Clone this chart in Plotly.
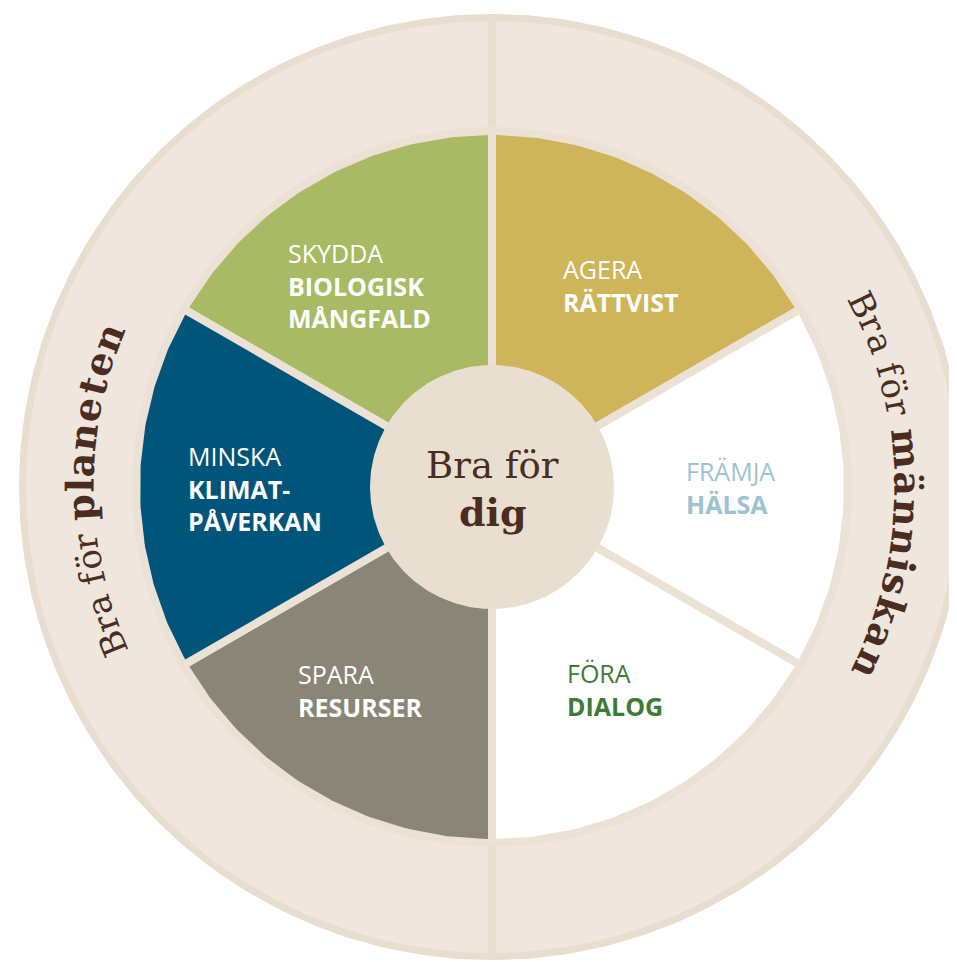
import numpy as np
import plotly.graph_objects as go

# ---------------- data ----------------
sector_verbs = ["SKYDDA", "AGERA", "FRÄMJA", "FÖRA", "SPARA", "MINSKA"]
sector_nouns = [["BIOLOGISK", "MÅNGFALD"], ["RÄTTVIST"], ["HÄLSA"], ["DIALOG"],
                ["RESURSER"], ["KLIMAT-", "PÅVERKAN"]]
sector_mid_deg = [120, 60, 0, -60, -120, 180]
sector_width_deg = [60, 60, 60, 60, 60, 60]
sector_fill = ["#A8BA64", "#CFB559", "#FFFFFF", "#FFFFFF", "#898678", "#02557A"]
sector_text = ["#FFFFFF", "#FFFFFF", "#9DC3D1", "#3F7B36", "#FFFFFF", "#FFFFFF"]

center_lines = ["Bra för", "dig"]
ring_left = [("Bra för ", False), ("planeten", True)]
ring_right = [("Bra för ", False), ("människan", True)]

# ---------------- style / layout ----------------
PAGE_OFF = 8               # default body margin of the html page
W, H = 957 - PAGE_OFF, 962 - PAGE_OFF
CX, CY = 492, 487          # page-pixel position of the circle centre
R_OUT = 473
BORDER = 7
DIVIDER = 8
R_SECTOR = 356
R_CENTER = 122
RING_FILL = "#EFE7DD"
RING_BORDER = "#E8DDCE"
GAP = "#EBE1D4"
CENTER_FILL = "#E9DFD1"
BROWN = "#4A2C20"
SANS = "Open Sans"
SLAB = "DejaVu Serif"


def P(x, y):
    return x - CX, CY - y


def arc(r, a0, a1, n=160):
    t = np.radians(np.linspace(a0, a1, n))
    return r * np.cos(t), r * np.sin(t)


fig = go.Figure()


def poly(xs, ys, fill, line_color=None, line_width=0):
    fig.add_trace(go.Scatter(
        x=list(xs), y=list(ys), mode="lines", fill="toself", fillcolor=fill,
        line=dict(color=line_color or fill, width=line_width),
        hoverinfo="skip", showlegend=False))


# outer disc (border colour)
x, y = arc(R_OUT, 0, 360, 400)
poly(x, y, RING_BORDER)
# two half rings
ri = R_OUT - BORDER
d = np.degrees(np.arcsin((DIVIDER / 2) / ri))
x, y = arc(ri, -90 + d, 90 - d, 300)
poly(x, y, RING_FILL)
x, y = arc(ri, 90 + d, 270 - d, 300)
poly(x, y, RING_FILL)

# sectors
for mid, wdt, col in zip(sector_mid_deg, sector_width_deg, sector_fill):
    ax, ay = arc(R_SECTOR, mid - wdt / 2, mid + wdt / 2, 120)
    xs = np.concatenate([[0], ax, [0]])
    ys = np.concatenate([[0], ay, [0]])
    poly(xs, ys, col, GAP, 8)

# centre circle
x, y = arc(R_CENTER, 0, 360, 300)
poly(x, y, CENTER_FILL)

ann = []

# sector labels (page pixels: left x, centre y of the text block)
label_pos = [(286, 285), (561, 285), (684, 487), (565, 689), (296, 690), (186, 488)]
LABEL_SIZE = 25
for verb, nouns, tcol, (lx, py) in zip(sector_verbs, sector_nouns, sector_text, label_pos):
    txt = verb + "".join(f"<br><b>{n}</b>" for n in nouns)
    x0, y0 = P(lx, py)
    ann.append(dict(x=x0, y=y0, xref="x", yref="y", showarrow=False, text=txt,
                    xanchor="left", yanchor="middle", align="left",
                    font=dict(family=SANS, size=LABEL_SIZE, color=tcol)))

# centre text
x0, y0 = P(CX, 465)
ann.append(dict(x=x0, y=y0, xref="x", yref="y", showarrow=False, text=center_lines[0],
                xanchor="center", yanchor="middle",
                font=dict(family=SLAB, size=37, color=BROWN)))
x0, y0 = P(CX + 1, 512)
ann.append(dict(x=x0, y=y0, xref="x", yref="y", showarrow=False,
                text=f"<b>{center_lines[1]}</b>",
                xanchor="center", yanchor="middle",
                font=dict(family=SLAB, size=38, color=BROWN)))

# curved ring text
REG_W = {'B': 0.686, 'r': 0.478, 'a': 0.596, ' ': 0.318, 'f': 0.37, 'ö': 0.602}
BOLD_W = {'p': 0.716, 'l': 0.371, 'a': 0.675, 'n': 0.716, 'e': 0.678, 't': 0.478,
          'm': 1.058, 'ä': 0.675, 'i': 0.371, 's': 0.595, 'k': 0.712}
RING_REG = 34
RING_BOLD = 38


def arc_text(segments, r, start_deg, end_deg):
    chars = []
    for txt, bold in segments:
        size = RING_BOLD if bold else RING_REG
        for ch in txt:
            w = (BOLD_W if bold else REG_W).get(ch, 0.6) * size
            chars.append((ch, bold, w, size))
    total = sum(c[2] for c in chars)
    span = np.radians(start_deg - end_deg)
    cum = 0.0
    for ch, bold, w, size in chars:
        frac = (cum + w / 2) / total
        th = np.radians(start_deg) - frac * span
        cum += w
        if ch == " ":
            continue
        rr = r + (2 if bold else 0)
        ann.append(dict(x=rr * np.cos(th), y=rr * np.sin(th), xref="x", yref="y",
                        showarrow=False, text=f"<b>{ch}</b>" if bold else ch,
                        textangle=90 - np.degrees(th),
                        xanchor="center", yanchor="middle",
                        font=dict(family=SLAB, size=size, color=BROWN)))


arc_text(ring_left, 410, 204.1, 156.7)
arc_text(ring_right, 414, 27.9, -27.2)

fig.update_layout(
    width=W, height=H, margin=dict(l=0, r=0, t=0, b=0),
    paper_bgcolor="white", plot_bgcolor="white",
    xaxis=dict(range=[PAGE_OFF - CX, 957 - CX], visible=False, fixedrange=True),
    yaxis=dict(range=[CY - 962, CY - PAGE_OFF], visible=False, fixedrange=True),
    annotations=ann, showlegend=False,
)

fig.write_html("out.html")
